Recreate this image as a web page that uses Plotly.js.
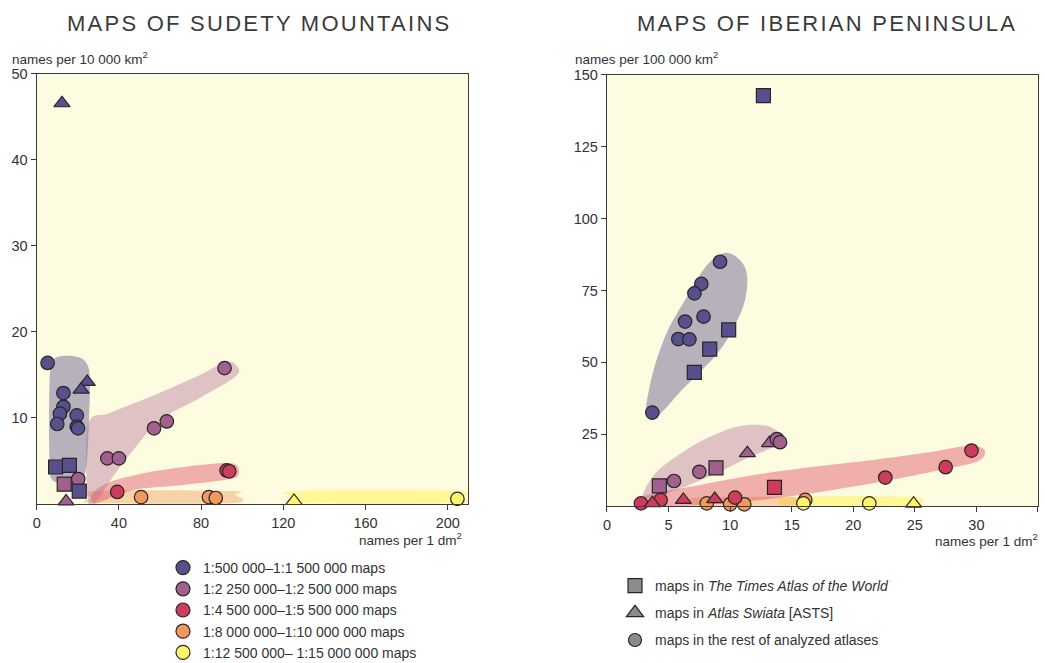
<!DOCTYPE html>
<html><head><meta charset="utf-8">
<script src="https://cdn.plot.ly/plotly-3.0.1.min.js"></script>
<style>html,body{margin:0;padding:0;background:#fff}#chart{width:1045px;height:663px}</style>
</head><body><div id="chart"></div>
<script>
// ---------- DATA ----------
const scaleNames = ['1:500 000\u20131:1 500 000 maps','1:2 250 000\u20131:2 500 000 maps','1:4 500 000\u20131:5 500 000 maps','1:8 000 000\u20131:10 000 000 maps','1:12 500 000\u2013 1:15 000 000 maps'];
const atlasNames = ['maps in <i>The Times Atlas of the World</i>','maps in <i>Atlas Swiata</i> [ASTS]','maps in the rest of analyzed atlases'];
// atlas codes: T = Times Atlas, A = Atlas Swiata, R = rest

// Sudety Mountains (x: names per 1 dm2, y: names per 10 000 km2)
const sud500_x = [5.3,12.3,24.6,21.6,13.0,13.0,11.3,10.0,19.5,19.5,20.1,9.2,15.9,20.7];
const sud500_y = [16.4,46.6,14.2,13.3,12.9,11.3,10.5,9.3,10.3,9.0,8.8,4.3,4.5,1.5];
const sud500_a = ['R','A','A','A','R','R','R','R','R','R','R','T','T','T'];
const sud2250_x = [91.4,57.1,63.3,34.4,40.0,20.2,13.4,14.3];
const sud2250_y = [15.8,8.8,9.6,5.3,5.3,2.9,2.3,0.3];
const sud2250_a = ['R','R','R','R','R','R','T','A'];
const sud4500_x = [92.4,93.7,39.2];
const sud4500_y = [3.9,3.8,1.4];
const sud4500_a = ['R','R','R'];
const sud8000_x = [50.8,83.8,87.1];
const sud8000_y = [0.8,0.8,0.7];
const sud8000_a = ['R','R','R'];
const sud12500_x = [125.2,204.7];
const sud12500_y = [0.35,0.6];
const sud12500_a = ['A','R'];

// Iberian Peninsula (x: names per 1 dm2, y: names per 100 000 km2)
const ibe500_x = [12.7,9.18,7.66,7.10,7.84,6.34,5.79,6.69,3.68,9.88,8.34,7.09];
const ibe500_y = [142.8,85.0,77.3,74.0,65.9,64.2,58.1,58.0,32.5,61.3,54.6,46.5];
const ibe500_a = ['T','R','R','R','R','R','R','R','R','T','T','T'];
const ibe2250_x = [13.2,13.8,14.05,11.4,8.85,7.5,5.44,4.25];
const ibe2250_y = [21.9,23.3,22.2,18.4,13.3,11.9,8.7,7.0];
const ibe2250_a = ['A','R','R','A','T','R','R','T'];
const ibe4500_x = [13.6,2.76,4.36,3.68,6.2,8.75,10.4,22.6,27.5,29.6];
const ibe4500_y = [6.5,0.9,2.1,1.0,2.1,2.4,2.9,9.9,13.5,19.3];
const ibe4500_a = ['T','R','R','A','A','A','R','R','R','R'];
const ibe8000_x = [8.1,10.0,11.15,16.1];
const ibe8000_y = [0.9,0.6,0.6,2.1];
const ibe8000_a = ['R','R','R','R'];
const ibe12500_x = [15.95,21.3,24.9];
const ibe12500_y = [0.9,0.9,0.8];
const ibe12500_a = ['R','R','A'];

// Group envelopes (outline points in data units)
const sudBand500_x = [6.47,7.93,12.31,20.10,24.48,25.94,25.45,24.48,23.02,19.12,11.34,6.96,6.23,5.99];
const sudBand500_y = [15.35,16.74,17.21,17.09,16.28,14.42,9.77,5.12,3.26,2.56,2.44,3.02,5.12,9.77];
const sudBand2250_x = [24.96,35.67,55.13,79.45,91.61,96.98,96.98,79.45,59.99,47.8,36.6,29.34,24.96];
const sudBand2250_y = [9.19,10.58,12.44,15.0,16.51,16.16,14.88,12.33,9.77,6.5,3.0,0.47,0.47];
const sudBand4500_x = [26.91,35.67,55.13,79.45,94.06,97.96,97.96,94.06,71.19,46.86,30.80,27.40];
const sudBand4500_y = [1.16,2.56,3.72,4.53,4.77,4.30,3.37,2.91,2.21,1.63,0.23,0.12];
const sudBand8000_x = [28.37,94.06,96.50,95.52,28.37,26.42];
const sudBand8000_y = [1.51,1.51,1.05,0.12,0.12,0.70];
const sudBand12500_x = [126.7,204.5,207.0,204.5,126.7,124.7];
const sudBand12500_y = [1.51,1.51,0.81,0.12,0.12,0.81];

const ibeBand500_x = [9.67,10.80,11.37,11.21,10.40,9.18,7.55,5.93,4.63,3.66,3.17,3.33,3.90,4.96,6.34,7.55,8.53];
const ibeBand500_y = [88.1,85.6,80.4,71.7,63.0,54.3,46.6,39.7,33.4,29.9,32.7,38.6,49.1,61.3,71.7,80.4,85.6];
const ibeBand2250_x = [4.04,6.20,8.37,10.54,12.43,13.51,14.05,13.51,11.35,9.18,7.01,4.85,3.23,2.95];
const ibeBand2250_y = [11.9,18.9,24.1,27.6,28.2,27.0,24.1,20.6,16.6,11.9,7.9,4.4,2.7,4.4];
const ibeBand4500_x = [3.09,7.55,12.43,17.30,22.18,26.24,29.08,30.30,30.71,30.30,28.68,23.80,19.74,15.68,11.62,7.55,4.31];
const ibeBand4500_y = [3.5,7.3,11.1,13.9,16.4,18.8,20.9,20.5,18.8,16.0,13.9,9.7,6.6,3.8,1.7,0.3,0.0];
const ibeBand8000_x = [7.6,15.5,16.6,15.5,7.6,6.8];
const ibeBand8000_y = [3.0,3.0,1.5,0.1,0.1,1.5];
const ibeBand12500_x = [15.0,24.5,25.6,24.5,15.0,14.0];
const ibeBand12500_y = [3.2,3.2,1.6,0.1,0.1,1.6];

const sudXTicks = [0,40,80,120,160,200];
const sudYTicks = [10,20,30,40,50];
const ibeXTicks = [0,5,10,15,20,25,30,35];
const ibeYTicks = [25,50,75,100,125,150];

// ---------- STYLE ----------
const scaleColors = ['#58508c','#a2608f','#cd3b5d','#f1995d','#fff56a'];
const bandColors = ['rgba(140,130,165,0.62)','rgba(180,115,155,0.42)','rgba(222,70,95,0.42)','rgba(240,150,90,0.40)','rgba(255,240,90,0.55)'];
const symMap = {T:'square', A:'triangle-up', R:'circle'};
const sizeMap = {T:14, A:14, R:13.5};
const FONT = 'Liberation Sans, Arial, sans-serif';
const TXT = '#333';

const sudGroups = [[sud500_x,sud500_y,sud500_a],[sud2250_x,sud2250_y,sud2250_a],[sud4500_x,sud4500_y,sud4500_a],[sud8000_x,sud8000_y,sud8000_a],[sud12500_x,sud12500_y,sud12500_a]];
const ibeGroups = [[ibe500_x,ibe500_y,ibe500_a],[ibe2250_x,ibe2250_y,ibe2250_a],[ibe4500_x,ibe4500_y,ibe4500_a],[ibe8000_x,ibe8000_y,ibe8000_a],[ibe12500_x,ibe12500_y,ibe12500_a]];
const sudBands = [[sudBand500_x,sudBand500_y],[sudBand2250_x,sudBand2250_y],[sudBand4500_x,sudBand4500_y],[sudBand8000_x,sudBand8000_y],[sudBand12500_x,sudBand12500_y]];
const ibeBands = [[ibeBand500_x,ibeBand500_y],[ibeBand2250_x,ibeBand2250_y],[ibeBand4500_x,ibeBand4500_y],[ibeBand8000_x,ibeBand8000_y],[ibeBand12500_x,ibeBand12500_y]];

function smoothPath(xs, ys) {
  const n = xs.length;
  let d = 'M' + xs[0] + ',' + ys[0];
  for (let i = 0; i < n; i++) {
    const p0 = (i - 1 + n) % n, p1 = i, p2 = (i + 1) % n, p3 = (i + 2) % n;
    const c1x = xs[p1] + (xs[p2] - xs[p0]) / 6, c1y = ys[p1] + (ys[p2] - ys[p0]) / 6;
    const c2x = xs[p2] - (xs[p3] - xs[p1]) / 6, c2y = ys[p2] - (ys[p3] - ys[p1]) / 6;
    d += ' C' + c1x + ',' + c1y + ' ' + c2x + ',' + c2y + ' ' + xs[p2] + ',' + ys[p2];
  }
  return d + ' Z';
}

const shapes = [];
[4,3,2,1,0].forEach(i => {
  shapes.push({type:'path', xref:'x', yref:'y', layer:'below', path: smoothPath(sudBands[i][0], sudBands[i][1]), fillcolor: bandColors[i], line:{width:0}});
  shapes.push({type:'path', xref:'x2', yref:'y2', layer:'below', path: smoothPath(ibeBands[i][0], ibeBands[i][1]), fillcolor: bandColors[i], line:{width:0}});
});

const traces = [];
function addGroup(g, i, xa, ya) {
  traces.push({
    type:'scatter', mode:'markers', x:g[0], y:g[1], xaxis:xa, yaxis:ya,
    showlegend:false, cliponaxis:false, hoverinfo:'x+y',
    marker:{color:scaleColors[i], opacity:1, symbol:g[2].map(a => symMap[a]), size:g[2].map(a => sizeMap[a]), line:{color:'#262626', width:1.2}}
  });
}
[3,4,2,1,0].forEach(i => { addGroup(sudGroups[i], i, 'x', 'y'); addGroup(ibeGroups[i], i, 'x2', 'y2'); });

// legend entries
scaleNames.forEach((nm, i) => traces.push({type:'scatter', mode:'markers', x:[null], y:[null], name:nm, legend:'legend', showlegend:true,
  marker:{color:scaleColors[i], opacity:1, symbol:'circle', size:14, line:{color:'#262626', width:1.2}}}));
['T','A','R'].forEach((a, i) => traces.push({type:'scatter', mode:'markers', x:[null], y:[null], xaxis:'x2', yaxis:'y2', name:atlasNames[i], legend:'legend2', legendgroup:'g'+i, showlegend:true,
  marker:{color:'#8c8c8c', opacity:1, symbol:symMap[a], size:[14,15,13][i], line:{color:'#262626', width:1.2}}}));

function axis(domain, anchor, range, ticks) {
  return {domain, anchor, range, tickvals:ticks, ticktext:ticks.map(String), ticks:'outside', ticklen:5, tickwidth:1.2, tickcolor:'#3a3a3a',
    showline:true, mirror:true, linecolor:'#3a3a3a', linewidth:1.3, showgrid:false, zeroline:false, fixedrange:true,
    tickfont:{family:FONT, size:14.5, color:TXT}};
}
const xa1 = axis([0.03512,0.44813],'y',[0,210],sudXTicks);
const ya1 = axis([0.23982,0.88839],'x',[0,50],sudYTicks);
const xa2 = axis([0.58086,0.99330],'y2',[0,35],ibeXTicks);
const ya2 = axis([0.23680,0.88688],'x2',[0,150],ibeYTicks);

function ann(text, px, py, xanchor, size, extra) {
  return Object.assign({text, xref:'paper', yref:'paper', x:px/1045, y:1-py/663, xanchor, yanchor:'middle', align:xanchor==='right'?'right':'left', showarrow:false,
    font:{family:FONT, size, color:TXT}}, extra||{});
}
const annotations = [
  ann('MAPS OF SUDETY MOUNTAINS', 65, 24, 'left', 22, {font:{family:FONT, size:22, color:'#3a3a3a'}}),
  ann('MAPS OF IBERIAN PENINSULA', 635, 24, 'left', 22, {font:{family:FONT, size:22, color:'#3a3a3a'}}),
  ann('names per 10 000 km<sup>2</sup>', 10, 58, 'left', 13.5),
  ann('names per 100 000 km<sup>2</sup>', 573, 58, 'left', 13.5),
  ann('names per 1 dm<sup>2</sup>', 464, 539, 'right', 13.5),
  ann('names per 1 dm<sup>2</sup>', 1040, 540, 'right', 13.5)
];

const layout = {
  width:1045, height:663, margin:{l:0,r:0,t:0,b:0,autoexpand:false}, paper_bgcolor:'#ffffff', plot_bgcolor:'#fefce0',
  xaxis:xa1, yaxis:ya1, xaxis2:xa2, yaxis2:ya2, shapes, annotations,
  legend:{x:163/1045, y:1-552/663, xanchor:'left', yanchor:'top', bgcolor:'rgba(0,0,0,0)', font:{family:FONT, size:14, color:TXT}, tracegroupgap:0, itemwidth:30},
  legend2:{x:615/1045, y:1-570/663, xanchor:'left', yanchor:'top', bgcolor:'rgba(0,0,0,0)', font:{family:FONT, size:14, color:TXT}, tracegroupgap:6, itemwidth:30},
  showlegend:true, hovermode:'closest'
};

Plotly.newPlot('chart', traces, layout, {displayModeBar:false, responsive:false}).then(() => {
  document.querySelectorAll('.annotation-text').forEach(el => {
    if (el.textContent.indexOf('MAPS') === 0) { el.style.letterSpacing = '2.25px'; el.setAttribute('letter-spacing','2.25'); }
  });
});
</script></body></html>
